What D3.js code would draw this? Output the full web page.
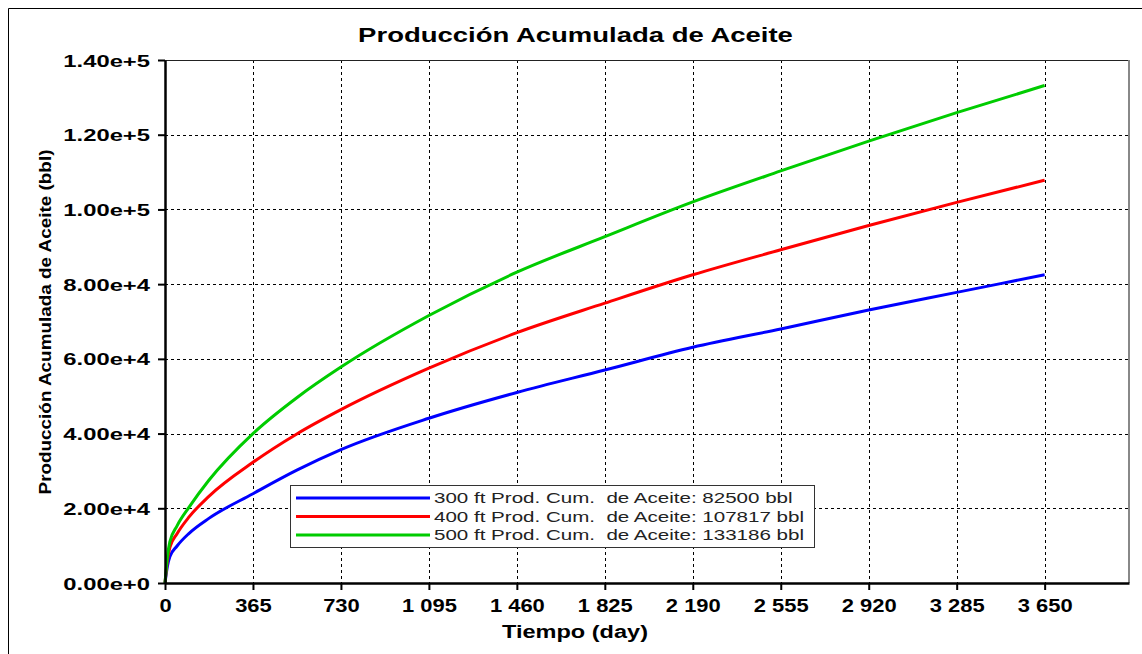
<!DOCTYPE html>
<html><head><meta charset="utf-8">
<script src="https://cdn.jsdelivr.net/npm/d3@7/dist/d3.min.js"></script>
<style>
html,body{margin:0;padding:0;background:#fff;}
svg{display:block;font-family:"Liberation Sans",Arial,sans-serif;}
</style></head>
<body>
<svg id="c" width="1142" height="654"></svg>
<script>
const days = [0, 10, 20, 50, 100, 182, 365, 547, 730, 1095, 1460, 1825, 2190, 2555, 2920, 3285, 3650];
const prod300 = [0, 4500, 7000, 9900, 13300, 17300, 23900, 30200, 35700, 44100, 51000, 57000, 63100, 68000, 73100, 77800, 82500];
const prod400 = [0, 6000, 9500, 13200, 17700, 23200, 32300, 39900, 46400, 57500, 67000, 74900, 82500, 89200, 95700, 101900, 107817];
const prod500 = [0, 7000, 11000, 15300, 20300, 27500, 40000, 49600, 57800, 71600, 83200, 92700, 102000, 110300, 118300, 125900, 133186];
const seriesNames = ["300 ft Prod. Cum.  de Aceite: 82500 bbl", "400 ft Prod. Cum.  de Aceite: 107817 bbl", "500 ft Prod. Cum.  de Aceite: 133186 bbl"];
const seriesColors = ["#0000ff", "#ff0000", "#00cc00"];
const xTicks = [0, 365, 730, 1095, 1460, 1825, 2190, 2555, 2920, 3285, 3650];
const yTicks = [0, 20000, 40000, 60000, 80000, 100000, 120000, 140000];
const title = "Producción Acumulada de Aceite";
const xTitle = "Tiempo (day)";
const yTitle = "Producción Acumulada de Aceite (bbl)";

const svg = d3.select("#c");
const L = 165, R = 1129, T = 60, B = 583;
const x = d3.scaleLinear().domain([0, 4000]).range([L, R]);
const y = d3.scaleLinear().domain([0, 140000]).range([B, T]);

// horizontally stretched text helper
function stretched(sel, txt, cx, cy, size, bold, width, anchor, rot) {
  const t = sel.append("text").attr("font-size", size).attr("font-weight", bold ? "bold" : "normal")
    .attr("text-anchor", anchor).attr("fill", "#000").style("white-space", "pre").text(txt);
  const w = t.node().getComputedTextLength();
  const s = width / w;
  t.attr("transform", `translate(${cx},${cy})${rot ? " rotate(" + rot + ")" : ""} scale(${s},1)`);
  return t;
}

// outer frame
svg.append("path").attr("d", "M8.5,654 L8.5,8.5 L1142,8.5").attr("fill", "none").attr("stroke", "#000").attr("stroke-width", 1);

// title
stretched(svg, title, 575.5, 42, 21, true, 435, "middle");

// grid
const g = svg.append("g");
g.selectAll(".vg").data(xTicks.filter(d => d > 0)).join("line")
  .attr("x1", d => Math.round(x(d)) + 0.5).attr("x2", d => Math.round(x(d)) + 0.5)
  .attr("y1", T).attr("y2", B).attr("stroke", "#000").attr("stroke-width", 1).attr("stroke-dasharray", "3,3");
g.selectAll(".hg").data(yTicks.filter(d => d > 0 && d < 140000)).join("line")
  .attr("y1", d => Math.round(y(d)) + 0.5).attr("y2", d => Math.round(y(d)) + 0.5)
  .attr("x1", L).attr("x2", R).attr("stroke", "#000").attr("stroke-width", 1).attr("stroke-dasharray", "3,3");

// top and right borders
svg.append("line").attr("x1", L).attr("x2", R).attr("y1", T + 0.5).attr("y2", T + 0.5).attr("stroke", "#222").attr("stroke-width", 1);
svg.append("line").attr("x1", R).attr("x2", R).attr("y1", T).attr("y2", B).attr("stroke", "#888").attr("stroke-width", 2);

// curves
const line = d3.line().x(d => x(d[0])).y(d => y(d[1])).curve(d3.curveMonotoneX);
[prod300, prod400, prod500].forEach((vals, i) => {
  svg.append("path").datum(days.map((d, j) => [d, vals[j]]))
    .attr("d", line).attr("fill", "none").attr("stroke", seriesColors[i]).attr("stroke-width", 3);
});

// axes
const loc = d3.formatLocale({decimal: ".", thousands: " ", grouping: [3], currency: ["", ""]});
const xa = d3.axisBottom(x).tickValues(xTicks).tickFormat(loc.format(",d")).tickSize(7).tickSizeOuter(0);
const ya = d3.axisLeft(y).tickValues(yTicks).tickFormat(d3.format(".2e")).tickSize(7).tickSizeOuter(0);
const gx = svg.append("g").attr("transform", `translate(0,${B})`).call(xa);
const gy = svg.append("g").attr("transform", `translate(${L},0)`).call(ya);
[gx, gy].forEach(a => {
  a.select(".domain").attr("stroke", "#000").attr("stroke-width", 2.5);
  a.selectAll(".tick line").attr("stroke", "#000").attr("stroke-width", 2);
  a.selectAll("text").attr("fill", "#000").attr("font-weight", "bold")
    .attr("font-family", "'Liberation Sans',Arial,sans-serif");
});
const sxX = 1.22, sxY = 1.4;
gx.selectAll("text").attr("font-size", 18).attr("y", 0).attr("dy", null)
  .attr("transform", `translate(0,29) scale(${sxX},1)`);
gy.selectAll("text").attr("font-size", 17).attr("dy", "0.36em").attr("x", -15 / sxY)
  .attr("transform", `scale(${sxY},1)`);

// axis titles
stretched(svg, xTitle, 575, 638, 19, true, 146, "middle");
stretched(svg, yTitle, 51, 322, 16, true, 345, "middle", -90);

// legend
const lg = svg.append("g");
lg.append("rect").attr("x", 290.5).attr("y", 485.5).attr("width", 524).attr("height", 62)
  .attr("fill", "#fff").attr("stroke", "#333").attr("stroke-width", 1);
seriesNames.forEach((n, i) => {
  const yy = 498 + i * 18.5;
  lg.append("line").attr("x1", 296).attr("x2", 430).attr("y1", yy).attr("y2", yy)
    .attr("stroke", seriesColors[i]).attr("stroke-width", 3);
  const t = lg.append("text").attr("font-size", 15).attr("fill", "#222").attr("dy", "0.36em")
    .style("white-space", "pre").text(n);
  t.attr("transform", `translate(434,${yy}) scale(1.37,1)`);
});
</script>
</body></html>
